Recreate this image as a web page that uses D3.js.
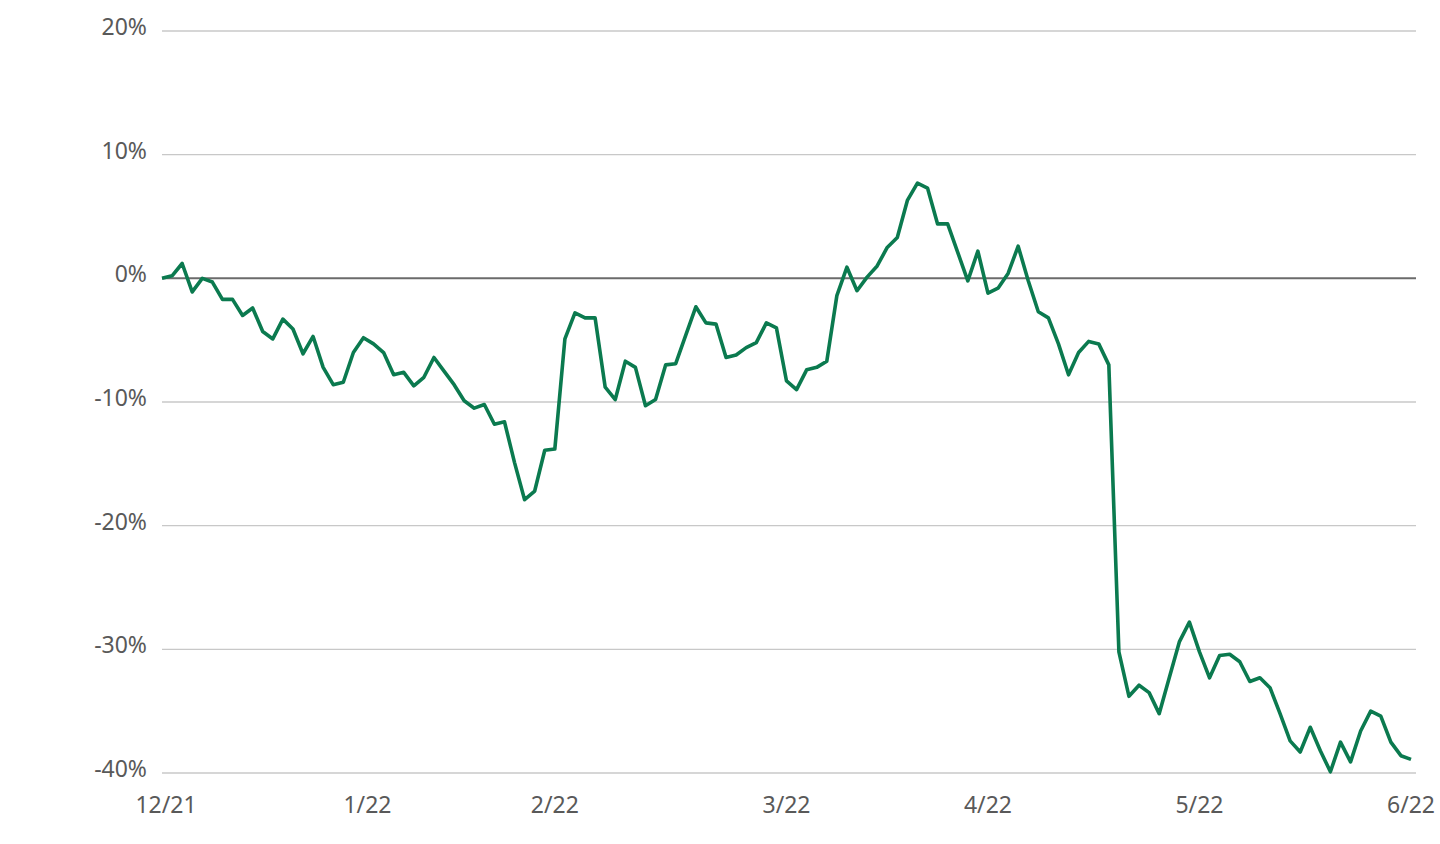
<!DOCTYPE html>
<html><head><meta charset="utf-8">
<script src="https://cdn.jsdelivr.net/npm/d3@7"></script>
<style>body{margin:0;background:#fff}svg{display:block}text{font-family:"Noto Sans",sans-serif}</style>
</head><body><svg id="c" width="1440" height="844"></svg>
<script>
const values = [0,0.2,1.2,-1.1,0,-0.3,-1.7,-1.7,-3.0,-2.4,-4.3,-4.9,-3.3,-4.1,-6.1,-4.7,-7.2,-8.6,-8.4,-6.0,-4.8,-5.3,-6.0,-7.8,-7.6,-8.7,-8.0,-6.4,-7.5,-8.6,-9.9,-10.5,-10.2,-11.8,-11.6,-14.9,-17.9,-17.2,-13.9,-13.8,-4.9,-2.8,
-3.2,-3.2,-8.8,-9.8,-6.7,-7.2,-10.3,-9.8,-7.0,-6.9,-4.6,-2.3,-3.6,-3.7,-6.4,-6.2,-5.6,-5.2,-3.6,-4.0,-8.3,-9.0,-7.4,-7.2,-6.7,-1.4,0.9,-1.0,0.1,1.0,2.5,3.3,6.3,7.7,7.3,4.4,4.4,2.1,-0.2,2.2,-1.2,-0.8,0.4,2.6,-0.2,-2.7,-3.2,-5.3,-7.8,-6.0,-5.1,-5.3,-7.0,
-30.2,-33.8,-32.9,-33.5,-35.2,-32.3,-29.4,-27.8,-30.2,-32.3,-30.5,-30.4,-31.0,-32.6,-32.3,-33.1,-35.2,-37.4,-38.3,-36.3,-38.2,-39.9,-37.5,-39.1,-36.6,-35.0,-35.4,-37.5,-38.6,-38.9];
const xTickIndex = [0,20,39,62,82,103,124];
const xTickLabels = ["12/21","1/22","2/22","3/22","4/22","5/22","6/22"];
const yTicks = [20,10,0,-10,-20,-30,-40];

const svg = d3.select("#c");
const x = d3.scaleLinear().domain([0, values.length-1]).range([162, 1411]);
const y = d3.scaleLinear().domain([-40, 20]).range([773, 31]);

svg.append("g").selectAll("line").data(yTicks).join("line")
  .attr("x1",162).attr("x2",1416).attr("y1",d=>y(d)).attr("y2",d=>y(d))
  .attr("stroke",d=>d===0?"#6b6b6b":"#c8c8c8").attr("stroke-width",d=>d===0?2:1.3);
svg.append("g").selectAll("text").data(yTicks).join("text")
  .attr("x",147).attr("y",d=>y(d)+4).attr("text-anchor","end")
  .attr("font-size",23).attr("fill","#595959").text(d=>d+"%");
svg.append("g").selectAll("text").data(xTickIndex).join("text")
  .attr("x",(d,i)=>x(d)+(i===0?4:(i===1?4:0))).attr("y",813).attr("text-anchor","middle")
  .attr("font-size",23).attr("fill","#595959").text((d,i)=>xTickLabels[i]);
svg.append("path").datum(values)
  .attr("d", d3.line().x((d,i)=>x(i)).y(d=>y(d)))
  .attr("fill","none").attr("stroke","#0b7a4f").attr("stroke-width",3.6).attr("stroke-linejoin","round");
</script></body></html>
